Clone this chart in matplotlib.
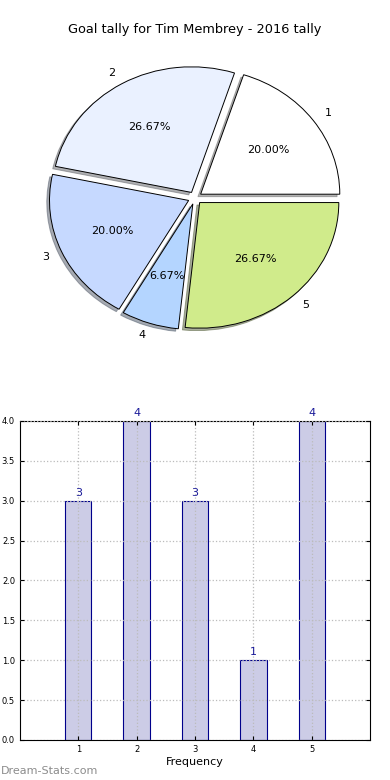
import matplotlib
matplotlib.use('Agg')
import matplotlib.pyplot as plt

# data
categories = ['1', '2', '3', '4', '5']
goals = [3, 4, 3, 1, 4]
pie_colors = ['#FFFFFF', '#EAF1FF', '#C6D9FF', '#B4D5FF', '#D0EB8B']
title = 'Goal tally for Tim Membrey - 2016 tally'

fig = plt.figure(figsize=(3.9, 7.8), dpi=100)
fig.text(0.5, 1 - 30 / 780, title, ha='center', va='center', fontsize=9.3)

# pie chart (not forced round, like the reference)
ax1 = fig.add_axes([0.054, 0.545, 0.892, 0.4026])
wedges, texts, autotexts = ax1.pie(goals, labels=categories, colors=pie_colors,
                                   explode=[0.05] * len(goals), autopct='%.2f%%',
                                   shadow={'ox': -0.014, 'oy': -0.014, 'shade': 0.6},
                                   startangle=0,
                                   wedgeprops={'edgecolor': 'black', 'linewidth': 0.7},
                                   textprops={'fontsize': 8})
ax1.set_xlim(-1.25, 1.25)
ax1.set_ylim(-1.25, 1.25)
ax1.set_aspect('auto')
ax1.axis('off')

# bar chart
ax2 = fig.add_axes([0.051, 0.0513, 0.898, 0.409])
xpos = [int(c) for c in categories]
ax2.bar(xpos, goals, width=0.45, color='#CCCCE6', edgecolor='#00008B',
        linewidth=0.8, align='center', zorder=2)
for x, v in zip(xpos, goals):
    ax2.text(x, v + 0.04, str(v), ha='center', va='bottom', color='#1A1A99', fontsize=8)
ax2.set_xlim(0, 6)
ax2.set_ylim(0, 4)
ax2.set_xticks(xpos)
ax2.set_yticks([0.0, 0.5, 1.0, 1.5, 2.0, 2.5, 3.0, 3.5, 4.0])
ax2.set_yticklabels(['0.0', '0.5', '1.0', '1.5', '2.0', '2.5', '3.0', '3.5', '4.0'])
ax2.tick_params(labelsize=6, direction='in', length=3, top=True, right=True)
ax2.grid(True, linestyle=':', color='#BBBBBB', linewidth=0.9, zorder=3)
ax2.set_axisbelow(False)
ax2.set_xlabel('Frequency', fontsize=8, labelpad=2)

fig.text(0.003, 1 - 771 / 780, 'Dream-Stats.com', color='#8C8C8C', fontsize=8,
         ha='left', va='center')

fig.savefig('out.png', dpi=100)
